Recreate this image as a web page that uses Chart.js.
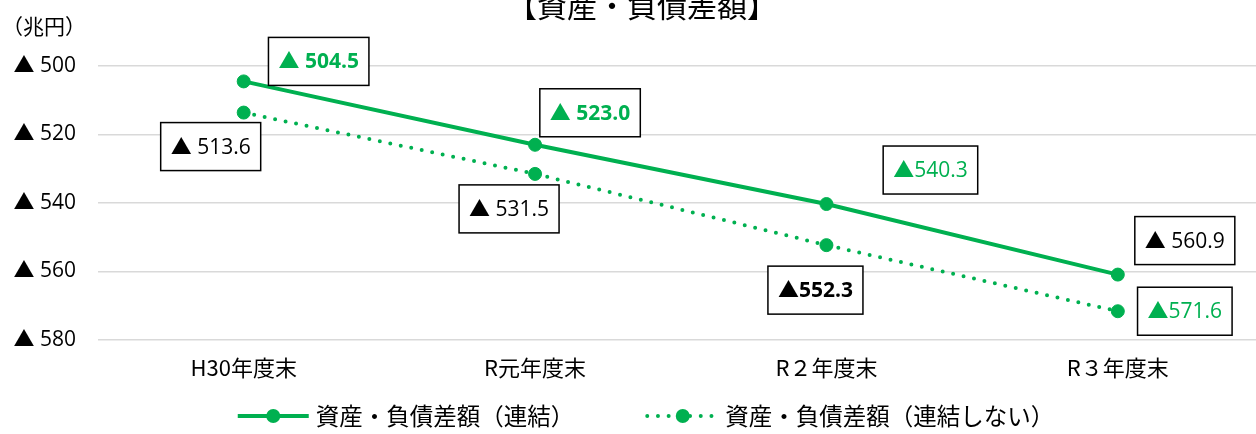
<!DOCTYPE html>
<html>
<head>
<meta charset="utf-8">
<script src="https://cdn.jsdelivr.net/npm/chart.js@4/dist/chart.umd.min.js"></script>
<style>
  html, body { margin: 0; padding: 0; background: #fff; overflow: hidden; }
  #wrap { width: 1256px; height: 434px; overflow: hidden; }
</style>
</head>
<body>
<div id="wrap"><canvas id="balanceChart" width="1271" height="434"></canvas></div>
<script>
// データ
const categories = ['H30年度末', 'R元年度末', 'R２年度末', 'R３年度末'];
const consolidated = [504.5, 523.0, 540.3, 560.9];      // 連結
const nonConsolidated = [513.6, 531.5, 552.3, 571.6];   // 連結しない
const yTicks = [500, 520, 540, 560, 580];
const seriesNames = ['資産・負債差額（連結）', '資産・負債差額（連結しない）'];

const GREEN = '#00B050';
const JP = '"Noto Sans CJK JP", sans-serif';
const NUM = '"Open Sans", "Noto Sans CJK JP", sans-serif';

// ラベルの見た目（位置のずれ・色・太字）
const labelStyles = [
    {
        dx: [75, 55, 104, 67],
        dy: [-20, -32, -34, -34],
        color: [GREEN, GREEN, GREEN, '#000'],
        bold: [true, true, false, false],
        space: [true, true, false, true]
    },
    {
        dx: [-33, -26, -11, 67],
        dy: [34, 35, 45, 0],
        color: ['#000', '#000', '#000', GREEN],
        bold: [false, false, true, false],
        space: [true, true, false, false]
    }
];

// 枠付きデータラベル
const boxLabels = {
    id: 'boxLabels',
    afterDatasetsDraw(chart) {
        const ctx = chart.ctx;
        chart.data.datasets.forEach((ds, di) => {
            const st = labelStyles[di];
            chart.getDatasetMeta(di).data.forEach((pt, i) => {
                const txt = (st.space[i] ? '▲ ' : '▲') + ds.data[i].toFixed(1);
                ctx.save();
                ctx.font = (st.bold[i] ? 'bold ' : '') + '21px ' + NUM;
                const w = ctx.measureText(txt).width + 20;
                const h = 48;
                const cx = pt.x + st.dx[i];
                const cy = pt.y + st.dy[i];
                ctx.fillStyle = '#fff';
                ctx.fillRect(cx - w / 2, cy - h / 2, w, h);
                ctx.strokeStyle = '#000';
                ctx.lineWidth = 1.5;
                ctx.strokeRect(cx - w / 2, cy - h / 2, w, h);
                ctx.fillStyle = st.color[i];
                ctx.textAlign = 'center';
                ctx.textBaseline = 'middle';
                ctx.fillText(txt, cx, cy + 1);
                ctx.restore();
            });
        });
    }
};

// タイトル・単位・凡例
const extras = {
    id: 'extras',
    afterDraw(chart) {
        const ctx = chart.ctx;
        ctx.save();
        ctx.fillStyle = '#000';
        ctx.textBaseline = 'middle';

        // タイトル
        ctx.font = '30px ' + JP;
        ctx.textAlign = 'center';
        ctx.fillText('【資産・負債差額】', 642, 6);

        // 単位
        ctx.font = '21px ' + JP;
        ctx.textAlign = 'left';
        ctx.fillText('（兆円）', 2, 26);

        // 凡例
        ctx.font = '23.5px ' + JP;
        const sampleW = 71, gap = 7, itemGap = 73;
        const widths = chart.data.datasets.map(ds => sampleW + gap + ctx.measureText(ds.label).width);
        const total = widths.reduce((a, b) => a + b, 0) + itemGap;
        let x = 646 - total / 2;
        const y = 416;
        chart.data.datasets.forEach((ds, di) => {
            ctx.strokeStyle = ds.borderColor;
            ctx.lineWidth = ds.borderWidth;
            ctx.lineCap = ds.borderCapStyle || 'butt';
            ctx.setLineDash(ds.borderDash || []);
            ctx.beginPath();
            ctx.moveTo(x, y);
            ctx.lineTo(x + sampleW, y);
            ctx.stroke();
            ctx.setLineDash([]);
            ctx.fillStyle = ds.pointBackgroundColor;
            ctx.beginPath();
            ctx.arc(x + sampleW / 2, y, 7, 0, Math.PI * 2);
            ctx.fill();
            ctx.fillStyle = '#000';
            ctx.fillText(ds.label, x + sampleW + gap, y);
            x += widths[di] + itemGap;
        });
        ctx.restore();
    }
};

new Chart(document.getElementById('balanceChart'), {
    type: 'line',
    data: {
        labels: categories,
        datasets: [
            {
                label: seriesNames[0],
                data: consolidated,
                borderColor: GREEN,
                borderWidth: 4,
                pointBackgroundColor: GREEN,
                pointBorderColor: GREEN,
                pointRadius: 6.5,
                pointBorderWidth: 1,
                tension: 0
            },
            {
                label: seriesNames[1],
                data: nonConsolidated,
                borderColor: GREEN,
                borderWidth: 4,
                borderDash: [0, 10.7],
                borderCapStyle: 'round',
                pointBackgroundColor: GREEN,
                pointBorderColor: GREEN,
                pointRadius: 6.5,
                pointBorderWidth: 1,
                tension: 0
            }
        ]
    },
    options: {
        responsive: false,
        animation: false,
        devicePixelRatio: 1,
        layout: { padding: { left: 0, top: 66, right: 0, bottom: 0 } },
        plugins: {
            legend: { display: false },
            title: { display: false },
            tooltip: { enabled: false }
        },
        scales: {
            x: {
                offset: true,
                grid: { display: false },
                border: { display: false },
                ticks: {
                    color: '#000',
                    font: { family: JP, size: 22 },
                    padding: 6
                },
                afterFit: scale => { scale.height = 94; }
            },
            y: {
                reverse: true,
                min: yTicks[0],
                max: yTicks[yTicks.length - 1],
                afterBuildTicks: scale => { scale.ticks = yTicks.map(v => ({ value: v })); },
                grid: { color: '#d9d9d9', lineWidth: 1.5, drawTicks: false },
                border: { display: false },
                ticks: {
                    color: '#000',
                    font: { family: NUM, size: 21 },
                    padding: 22,
                    callback: v => '▲ ' + v
                },
                afterFit: scale => { scale.width = 98; }
            }
        }
    },
    plugins: [boxLabels, extras]
});
</script>
</body>
</html>
